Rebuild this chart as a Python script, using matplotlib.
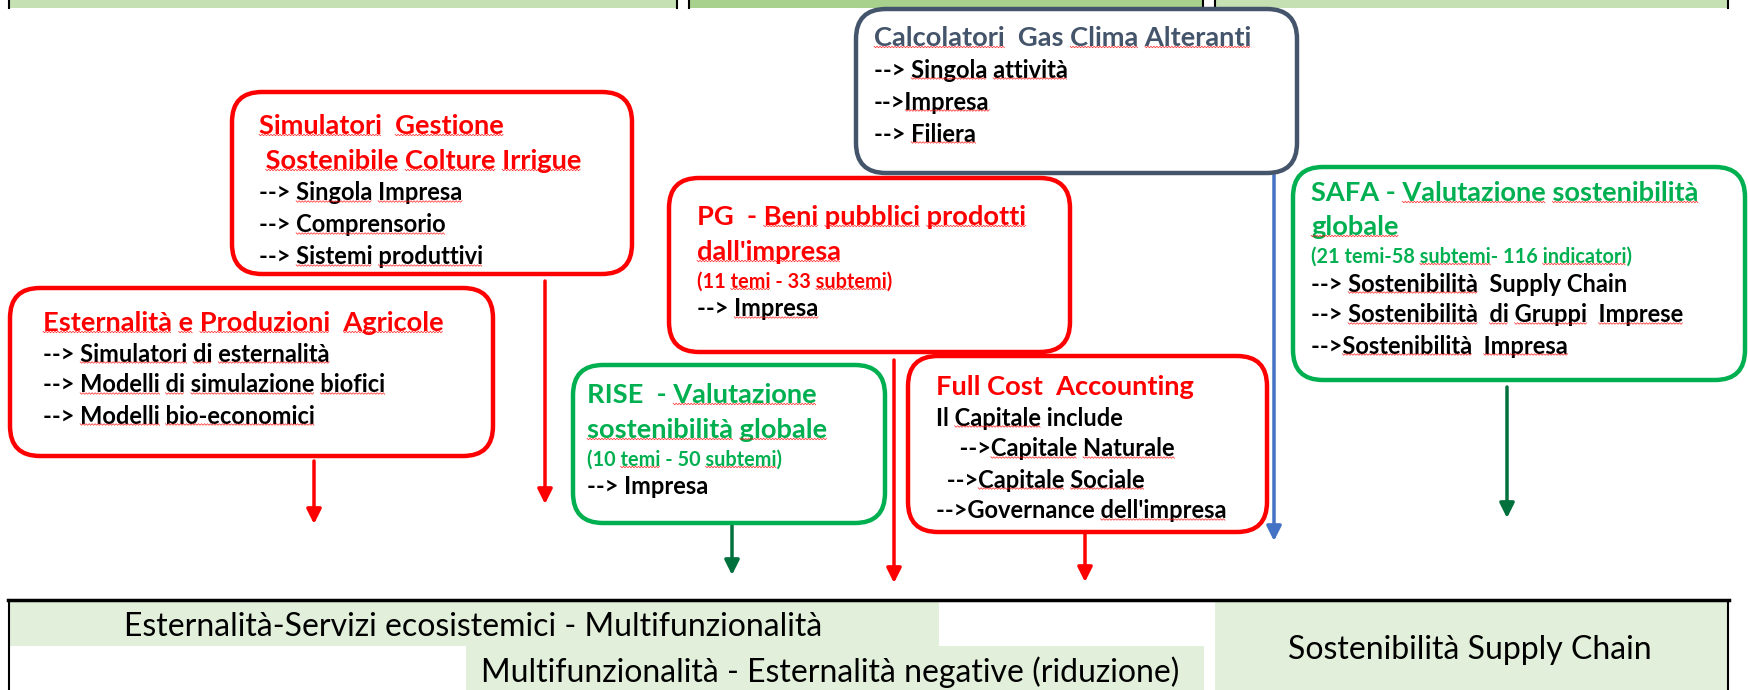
import re

import matplotlib.pyplot as plt
import numpy as np
from matplotlib.patches import FancyBboxPatch, Rectangle

RED = '#ff0000'
GREEN = '#00b050'
DKGREEN = '#00703c'
BLUE = '#4472c4'
SLATE = '#44546a'

# box contents: (title lines, sub line, item lines)
sim_title = ['Simulatori  Gestione', ' Sostenibile Colture Irrigue']
sim_items = ['--> Singola Impresa', '--> Comprensorio', '--> Sistemi produttivi']

est_title = ['Esternalità e Produzioni  Agricole']
est_items = ['--> Simulatori di esternalità', '--> Modelli di simulazione biofici',
             '--> Modelli bio-economici']

calc_title = ['Calcolatori  Gas Clima Alteranti']
calc_items = ['--> Singola attività', '-->Impresa', '--> Filiera']

pg_title = ['PG  - Beni pubblici prodotti', "dall'impresa"]
pg_sub = '(11 temi - 33 subtemi)'
pg_items = ['--> Impresa']

rise_title = ['RISE  - Valutazione', 'sostenibilità globale']
rise_sub = '(10 temi - 50 subtemi)'
rise_items = ['--> Impresa']

fca_title = ['Full Cost  Accounting']
fca_items = ['Il Capitale include', '  -->Capitale Naturale', ' -->Capitale Sociale',
             "-->Governance dell'impresa"]

safa_title = ['SAFA - Valutazione sostenibilità', 'globale']
safa_sub = '(21 temi-58 subtemi- 116 indicatori)'
safa_items = ['--> Sostenibilità  Supply Chain', '--> Sostenibilità  di Gruppi  Imprese',
              '-->Sostenibilità  Impresa']

bottom_labels = ['Esternalità-Servizi ecosistemici - Multifunzionalità',
                 'Multifunzionalità - Esternalità negative (riduzione)',
                 'Sostenibilità Supply Chain']

# words the spell checker did not flag
no_flag = {'PG', '-', 'Gas', 'SAFA', 'RISE', 'Full', 'Cost', 'Accounting', 'Il',
           'include', 'Supply', 'Chain', '11', '33', '10', '50', '21', 'temi-58',
           '116', 'Governance', ''}

FONT = 'Lato'
TITLE_FS = 19.6
ITEM_FS = 17
SUB_FS = 14.3

fig = plt.figure(figsize=(17.48, 6.90), dpi=100)
ax = fig.add_axes([0, 0, 1, 1])
ax.set_xlim(0, 1748)
ax.set_ylim(690, 0)
ax.axis('off')

texts = []  # (artist, string, fontsize, flagged?)

# top strip of table
top_cells = [(9, 677, '#c5e0b3'), (689, 1203, '#a9d18e'), (1215, 1728, '#c5e0b3')]
for x0, x1, c in top_cells:
    ax.add_patch(Rectangle((x0, 0), x1 - x0, 8, fc=c, ec='none'))
    ax.plot([x0, x0], [0, 8], color='black', lw=1.5)
    ax.plot([x1, x1], [0, 8], color='black', lw=1.5)


def put(x, y, s, color, fs, flag=True):
    t = ax.text(x, y, s, color=color, fontsize=fs, fontweight='bold',
                family=FONT, va='center', ha='left', zorder=4)
    texts.append((t, s, fs, flag))


def box(x0, y0, x1, y1, color, tx, ty, title, title_color, sub=None, items=(),
        title_dy=35, sub_dy=30, item_dy=32, item_x=None, lw=3.2, flag_items=True):
    ax.add_patch(FancyBboxPatch((x0, y0), x1 - x0, y1 - y0,
                                boxstyle='round,pad=0,rounding_size=30',
                                fc='white', ec=color, lw=lw, zorder=3))
    y = ty
    for t in title:
        put(tx, y, t, title_color, TITLE_FS)
        y += title_dy
    if sub is not None:
        y -= title_dy - sub_dy
        put(tx, y, sub, title_color, SUB_FS)
        y += 27
    else:
        y -= title_dy - item_dy
    for i, t in enumerate(items):
        xx = tx if item_x is None else item_x[i]
        put(xx, y, t, 'black', ITEM_FS, flag_items)
        y += item_dy


def arrow(x, y0, y1, color):
    ax.annotate('', xy=(x, y1), xytext=(x, y0),
                arrowprops=dict(arrowstyle='-|>', color=color, lw=2.5,
                                mutation_scale=22, shrinkA=0, shrinkB=0), zorder=2)


box(856, 9, 1297, 173, SLATE, 874, 38, calc_title, SLATE, items=calc_items, item_dy=32)
box(232, 92, 632, 274, RED, 259, 126, sim_title, RED, items=sim_items, item_dy=32)
box(10, 288, 493, 456, RED, 43, 323, est_title, RED, items=est_items, item_dy=31)
box(669, 178, 1070, 352, RED, 697, 217, pg_title, RED, sub=pg_sub, items=pg_items)
box(573, 365, 885, 523, GREEN, 587, 395, rise_title, GREEN, sub=rise_sub, items=rise_items,
    flag_items=False)
box(908, 356, 1267, 532, RED, 936, 387, fca_title, RED, items=fca_items, item_dy=31,
    item_x=[936, 948, 941, 936])
box(1293, 167, 1745, 380, GREEN, 1311, 193, safa_title, GREEN, sub=safa_sub,
    items=safa_items, title_dy=34, item_dy=31)

arrow(314, 461, 524, RED)
arrow(545, 281, 504, RED)
arrow(894, 360, 583, RED)
arrow(732, 524, 575, DKGREEN)
arrow(1085, 533, 582, RED)
arrow(1274, 175, 541, BLUE)
arrow(1507, 387, 518, DKGREEN)

# spell-check squiggles under flagged words
renderer = fig.canvas.get_renderer()


def text_w(s, fs):
    t = ax.text(0, 0, s, fontsize=fs, fontweight='bold', family=FONT)
    w = t.get_window_extent(renderer).width
    t.remove()
    return w


for art, s, fs, flag in texts:
    if not flag:
        continue
    x, y = art.get_position()
    h = art.get_window_extent(renderer).height
    yu = y + h / 2 - 3
    for m in re.finditer(r'\S+', s):
        tok = m.group()
        end = m.end()
        word = tok[3:] if tok.startswith('-->') else tok
        if word.endswith(')'):
            end -= 1
        word = word.strip('()')
        if word.endswith('-') and word != '-':
            end -= 1
            word = word[:-1]
        if word in no_flag:
            continue
        xe = x + text_w(s[:end], fs)
        xs = xe - text_w(word, fs)
        zx = np.arange(xs, xe, 1.5)
        zy = yu + np.where(np.arange(len(zx)) % 2 == 0, -0.8, 0.8)
        ax.plot(zx, zy, color=RED, lw=0.5, alpha=0.85, zorder=5)

# bottom table
LIGHT = '#e2efda'
ax.add_patch(Rectangle((9, 602), 930, 44, fc=LIGHT, ec='none'))
ax.add_patch(Rectangle((466, 646), 738, 44, fc=LIGHT, ec='none'))
ax.add_patch(Rectangle((1215, 602), 513, 88, fc=LIGHT, ec='none'))
ax.plot([8, 1729], [600, 600], color='black', lw=2.5)
ax.plot([9, 9], [600, 690], color='black', lw=1.5)
ax.plot([1728, 1728], [600, 690], color='black', lw=1.5)
ax.text(473, 627, bottom_labels[0], fontsize=23, family=FONT, ha='center', va='center')
ax.text(830, 672, bottom_labels[1], fontsize=23, family=FONT, ha='center', va='center')
ax.text(1470, 650, bottom_labels[2], fontsize=23, family=FONT, ha='center', va='center')

fig.savefig('out.png', dpi=100)
